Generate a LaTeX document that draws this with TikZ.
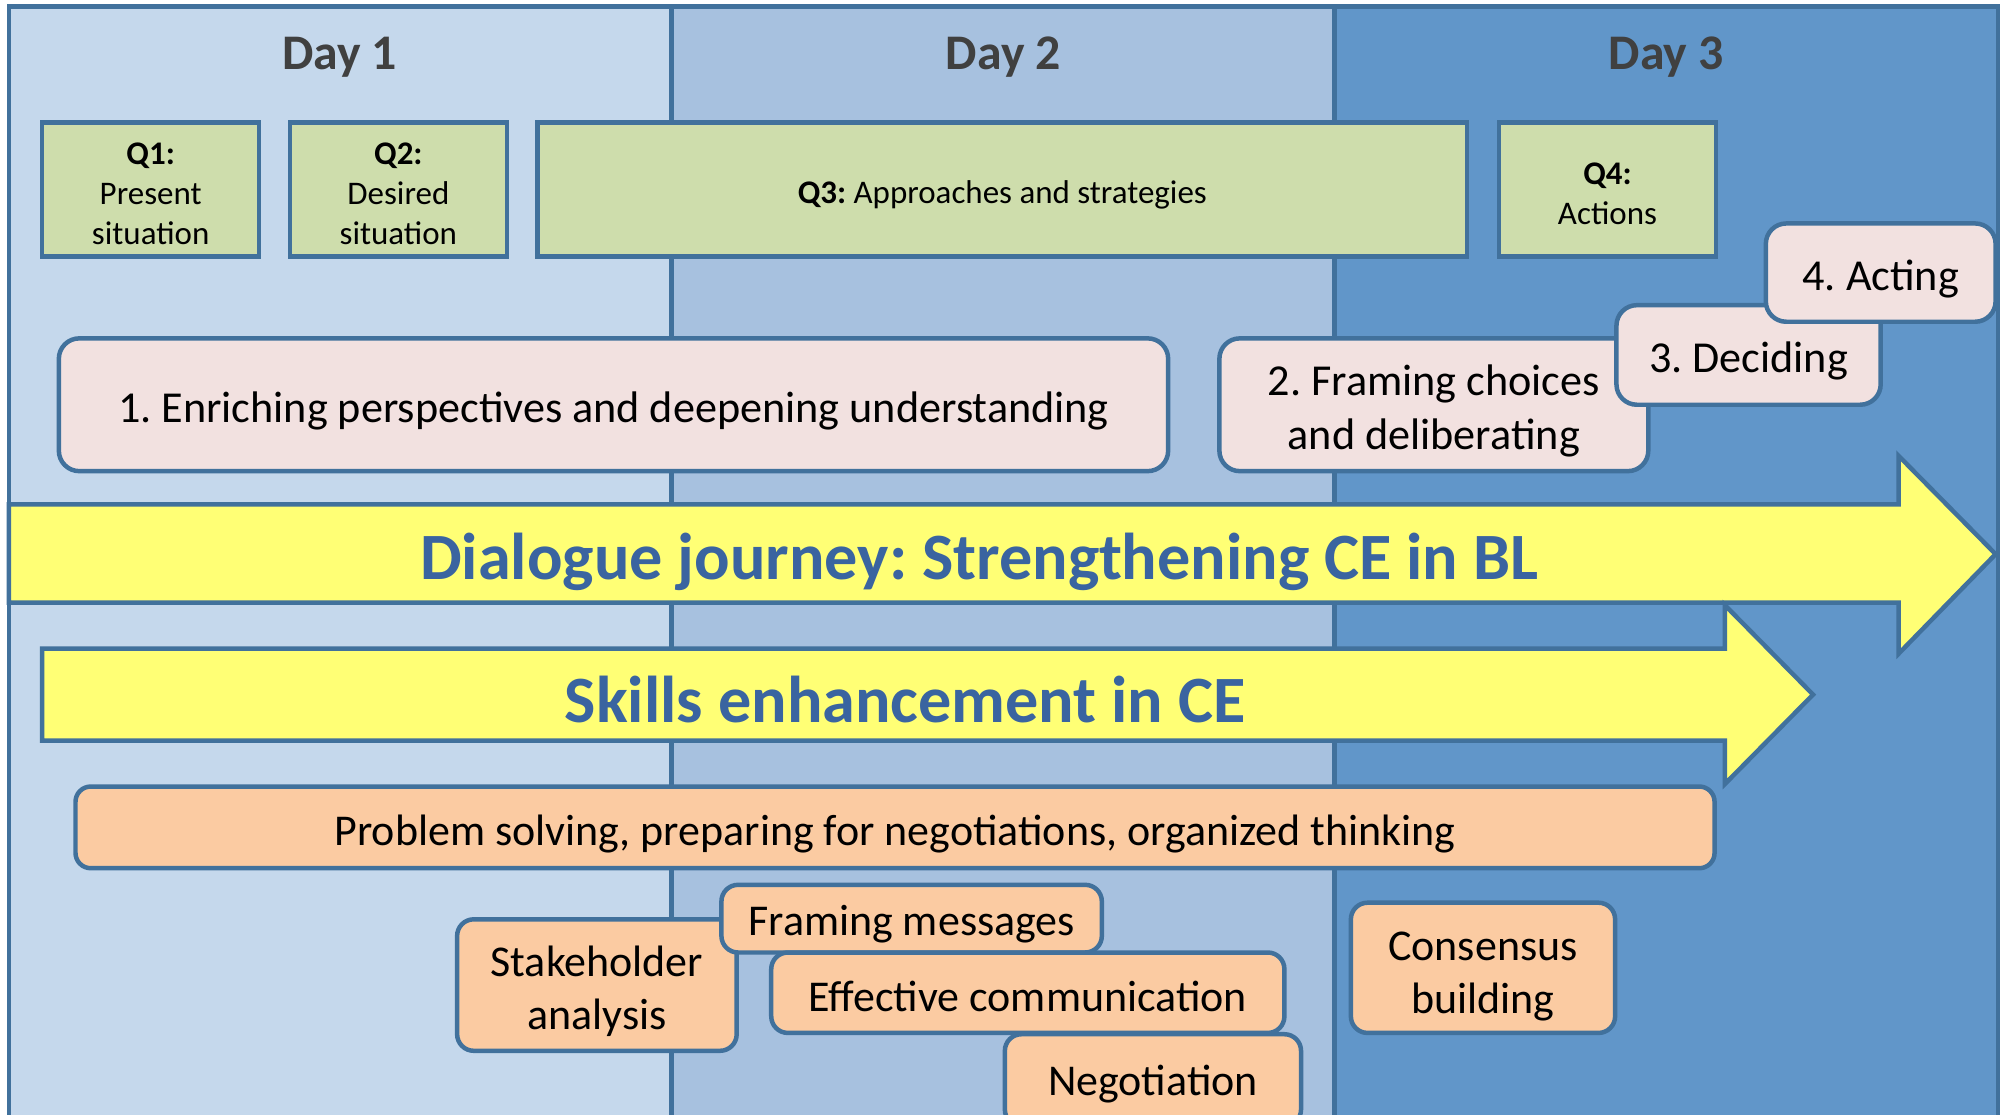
\documentclass[tikz,border=0pt]{standalone}
\usepackage{fontspec}
\setmainfont{Carlito}
\usepackage{tikz}
\usetikzlibrary{positioning}
\frenchspacing

\definecolor{dayone}{HTML}{C5D8EC}
\definecolor{daytwo}{HTML}{A7C1DF}
\definecolor{daythree}{HTML}{6196C9}
\definecolor{edgeblue}{HTML}{41719C}
\definecolor{qgreen}{HTML}{CEDDAC}
\definecolor{stagepink}{HTML}{F2E1E0}
\definecolor{skillorange}{HTML}{FBCBA2}
\definecolor{journeyyellow}{HTML}{FFFF75}
\definecolor{journeyblue}{HTML}{3A64A0}
\definecolor{daygray}{HTML}{404040}

\begin{document}
\begin{tikzpicture}[x=0.02cm, y=-0.02cm,
	frame/.style={draw=edgeblue, line width=2pt},
	qbox/.style={frame, fill=qgreen, inner sep=0pt},
	qtext/.style={align=center, inner sep=0pt, yshift=-0.06cm,
		font=\fontsize{14.7}{17.8}\selectfont},
	stage/.style={frame, fill=stagepink, rounded corners=0.32cm, inner sep=0pt},
	stagetext/.style={align=center, inner sep=0pt, yshift=-0.1cm,
		font=\fontsize{19.7}{23.8}\selectfont},
	skill/.style={frame, fill=skillorange, rounded corners=0.26cm, inner sep=0pt},
	skilltext/.style={align=center, inner sep=0pt, yshift=-0.1cm,
		font=\fontsize{19.6}{23.8}\selectfont},
	daylabel/.style={text=daygray, font=\bfseries\fontsize{22.2}{26}\selectfont},
	journey/.style={frame, fill=journeyyellow},
	journeytext/.style={text=journeyblue, font=\bfseries\fontsize{29.5}{35}\selectfont}]

	\clip (0,0) rectangle (1568,873);

	% the three days
	\path[frame, fill=dayone] (7,5) rectangle (526,900);
	\path[frame, fill=daytwo] (526,5) rectangle (1045,900);
	\path[frame, fill=daythree] (1045,5) rectangle (1565,900);

	\node[daylabel] (d1) at (266,45) {Day 1};
	\node[daylabel] (d2) at (786,45) {Day 2};
	\node[daylabel] (d3) at (1305,45) {Day 3};

	% questions
	\node[qbox, minimum width=3.4cm, minimum height=2.1cm] (q1) at (118,148.5) {};
	\node[qtext] (q1t) at (q1) {\textbf{Q1:}\\Present\\situation};
	\node[qbox, minimum width=3.4cm, minimum height=2.1cm] (q2) at (312,148.5) {};
	\node[qtext] (q2t) at (q2) {\textbf{Q2:}\\Desired\\situation};
	\node[qbox, minimum width=14.56cm, minimum height=2.1cm] (q3) at (785,148.5) {};
	\node[qtext, yshift=-0.02cm] (q3t) at (q3) {\textbf{Q3:} Approaches and strategies};
	\node[qbox, minimum width=3.4cm, minimum height=2.1cm] (q4) at (1259,148.5) {};
	\node[qtext] (q4t) at (q4) {\textbf{Q4:}\\Actions};

	% stages of the dialogue
	\node[stage, minimum width=17.38cm, minimum height=2.08cm] (s1) at (480.5,317) {};
	\node[stagetext] (s1t) at (s1) {1. Enriching perspectives and deepening understanding};
	\node[stage, minimum width=6.72cm, minimum height=2.08cm] (s2) at (1123,317) {};
	\node[stagetext] (s2t) at (s2) {2. Framing choices\\and deliberating};
	\node[stage, minimum width=4.14cm, minimum height=1.56cm] (s3) at (1369.5,278) {};
	\node[stagetext] (s3t) at (s3) {3. Deciding};
	\node[stage, minimum width=3.6cm, minimum height=1.54cm] (s4) at (1473,213.5) {};
	\node[stagetext] (s4t) at (s4) {4. Acting};

	% the two big arrows
	\draw[journey] (7,395) -- (1487,395) -- (1487,357) -- (1563,434)
		-- (1487,512) -- (1487,472) -- (7,472) -- cycle;
	\node[journeytext] (dj) at (767,440) {Dialogue journey: Strengthening CE in BL};

	\draw[journey] (33,508) -- (1351,508) -- (1351,474) -- (1420,544)
		-- (1351,614) -- (1351,580) -- (33,580) -- cycle;
	\node[journeytext] (se) at (709,548) {Skills enhancement in CE};

	% skills
	\node[skill, rounded corners=0.24cm, minimum width=25.68cm, minimum height=1.28cm] (ps) at (701,648) {};
	\node[skilltext] (pst) at (ps) {Problem solving, preparing for negotiations, organized thinking};
	\node[skill, minimum width=4.38cm, minimum height=2.06cm] (sa) at (467.5,771.5) {};
	\node[skilltext] (sat) at (sa) {Stakeholder\\analysis};
	\node[skill, minimum width=5.96cm, minimum height=1.06cm] (fm) at (714,719.5) {};
	\node[skilltext, yshift=0.02cm] (fmt) at (fm) {Framing messages};
	\node[skill, minimum width=8.04cm, minimum height=1.26cm] (ec) at (805,777.5) {};
	\node[skilltext, yshift=0.04cm] (ect) at (ec) {Effective communication};
	\node[skill, minimum width=4.64cm, minimum height=1.44cm] (ng) at (903,846) {};
	\node[skilltext, yshift=0.04cm] (ngt) at (ng) {Negotiation};
	\node[skill, minimum width=4.14cm, minimum height=2.04cm] (cb) at (1161.5,758) {};
	\node[skilltext, yshift=-0.04cm] (cbt) at (cb) {Consensus\\building};
\end{tikzpicture}
\end{document}
